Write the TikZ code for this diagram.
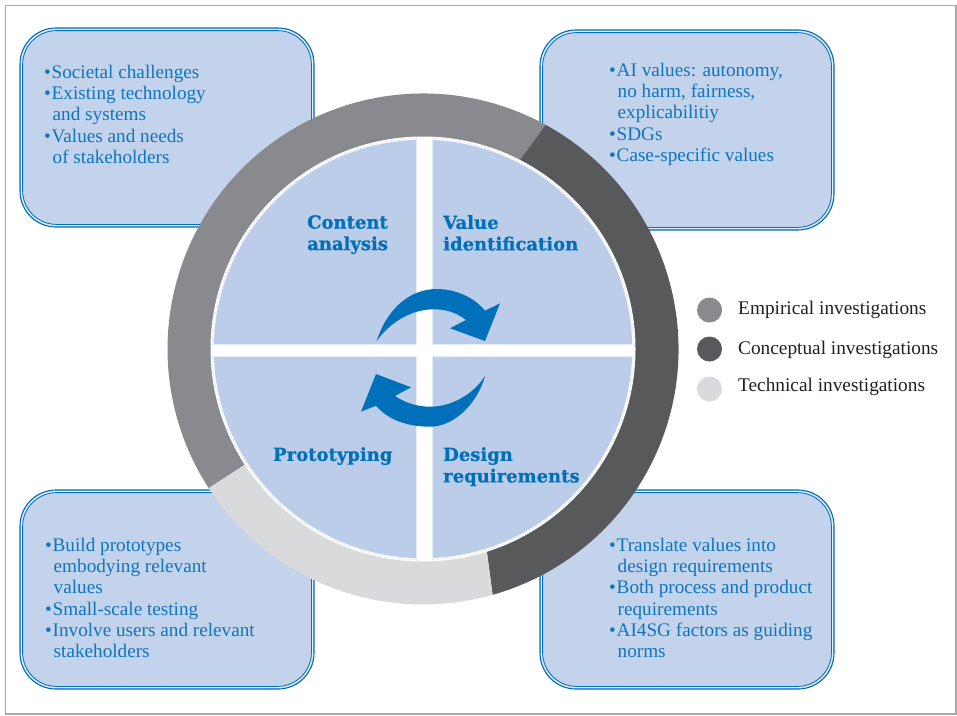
\documentclass[tikz,border=0pt]{standalone}
\usepackage{fontspec}
\setmainfont{Liberation Serif}
\newfontfamily\headfont[BoldFeatures={FakeBold=0.8}]{DejaVu Serif}
\definecolor{bluetxt}{HTML}{0F75BC}
\definecolor{bluehead}{HTML}{0070BB}
\definecolor{boxfill}{HTML}{C3D3EC}
\definecolor{quadfill}{HTML}{BCCDE9}
\definecolor{quadedge}{HTML}{E6ECF7}
\definecolor{ringA}{HTML}{898A8D}
\definecolor{ringB}{HTML}{58595B}
\definecolor{ringC}{HTML}{D9DADB}
\definecolor{frameC}{HTML}{A9A9AB}
\definecolor{legtxt}{HTML}{231F20}
\tikzset{
  x=1pt,y=-1pt,
  boxtext/.style={inner sep=0pt,anchor=north west,align=left,text=bluetxt,font=\fontsize{19.2}{21.2}\selectfont},
  headtext/.style={inner sep=0pt,anchor=north west,align=left,text=bluehead,font=\headfont\bfseries\fontsize{18}{21.5}\selectfont},
  legendtext/.style={inner sep=0pt,anchor=west,text=legtxt,font=\fontsize{19.3}{21}\selectfont},
  legenddot/.style={circle,minimum size=25pt,inner sep=0pt},
}
\newcommand{\infobox}[4]{%
  \draw[fill=boxfill,draw=bluehead,line width=1.1pt,rounded corners=36pt] (#1,#2) rectangle (#3,#4);
  \draw[draw=white,line width=.5pt,rounded corners=35pt] (#1+1.4,#2+1.4) rectangle (#3-1.4,#4-1.4);
  \draw[draw=bluehead,line width=.8pt,rounded corners=34pt] (#1+2.6,#2+2.6) rectangle (#3-2.6,#4-2.6);
}
\newcommand{\bul}{\makebox[7.5pt][l]{•}}
\newcommand{\ind}{\hspace*{8.5pt}}
\begin{document}
\begin{tikzpicture}
\useasboundingbox (0,0) rectangle (957,715);
\draw[frameC,line width=1.3pt] (5.5,5.5) rectangle (956,714);
\infobox{20}{28}{314}{227}
\infobox{540}{30}{834}{230}
\infobox{20}{490}{314}{689}
\infobox{540}{490}{834}{689}
\coordinate (c) at (423,349);
% ring
\fill[ringA] (445,262) -- (545.7,124.9) arc[start angle=-61.3,end angle=-213,radius=255.5] -- (c) -- cycle;
\fill[ringB] (445,262) -- (545.7,124.9) arc[start angle=-61.3,end angle=74.2,radius=255.5] -- (469,417) -- cycle;
\fill[ringC] (469,417) -- (492.6,594.8) arc[start angle=74.2,end angle=147,radius=255.5] -- (c) -- cycle;
% disc
\fill[white] (c) circle[radius=212.5];
\fill[quadedge] (c) circle[radius=211];
\fill[white] (c) circle[radius=210.2];
\fill[quadfill] (c) circle[radius=209.2];
\begin{scope}
\clip (c) circle[radius=212];
\fill[quadedge] (415.5,130) rectangle (432.5,570);
\fill[quadedge] (205,343.5) rectangle (640,356.5);
\fill[white] (416.5,130) rectangle (431.5,570);
\fill[white] (205,344.5) rectangle (640,355.5);
\end{scope}
% arrows
\fill[bluehead] (376.7,341) .. controls (388,306) and (412,289) .. (436.7,289) .. controls (455,289) and (474,297) .. (485,310.7)
  -- (500,303.3) -- (485,341) -- (450,328.3) -- (466,320) .. controls (456,312) and (445,309.3) .. (433.3,309.3) .. controls (412,309.3) and (390,322) .. (376.7,341) -- cycle;
\fill[bluehead] (485,376) .. controls (477,405) and (453,426.7) .. (430,426.7) .. controls (408,426.7) and (388,420) .. (376,405.7)
  -- (361,411.7) -- (376,374) -- (411,387.3) -- (395,396) .. controls (405,403) and (418,406.7) .. (430,406.7) .. controls (450,406.7) and (472,396) .. (485,376) -- cycle;
% heads
\node[headtext] (ca) at (307,215) {Content\\analysis};
\node[headtext] (vi) at (443,215) {Value\\identification};
\node[headtext] (pr) at (273,447) {Prototyping};
\node[headtext] (dr) at (443,447) {Design\\requirements};
% box text
\node[boxtext] (t1) at (44,65) {\bul Societal challenges\\\bul Existing technology\\\ind and systems\\\bul Values and needs\\\ind of stakeholders};
\node[boxtext] (t2) at (609,63) {\bul AI values: autonomy,\\\ind no harm, fairness,\\\ind explicabilitiy\\\bul SDGs\\\bul Case-specific values};
\node[boxtext] (t3) at (45,538) {\bul Build prototypes\\\ind embodying relevant\\\ind values\\\bul Small-scale testing\\\bul Involve users and relevant\\\ind stakeholders};
\node[boxtext] (t4) at (609,538) {\bul Translate values into\\\ind design requirements\\\bul Both process and product\\\ind requirements\\\bul AI4SG factors as guiding\\\ind norms};
% legend
\node[legenddot,fill=ringA] (l1) at (709.5,310) {};
\node[legenddot,fill=ringB] (l2) at (709.5,349) {};
\node[legenddot,fill=ringC] (l3) at (709.5,389) {};
\node[legendtext] (e1) at (738,310) {Empirical investigations};
\node[legendtext] (e2) at (738,349.5) {Conceptual investigations};
\node[legendtext] (e3) at (738,387) {Technical investigations};
\end{tikzpicture}
\end{document}
